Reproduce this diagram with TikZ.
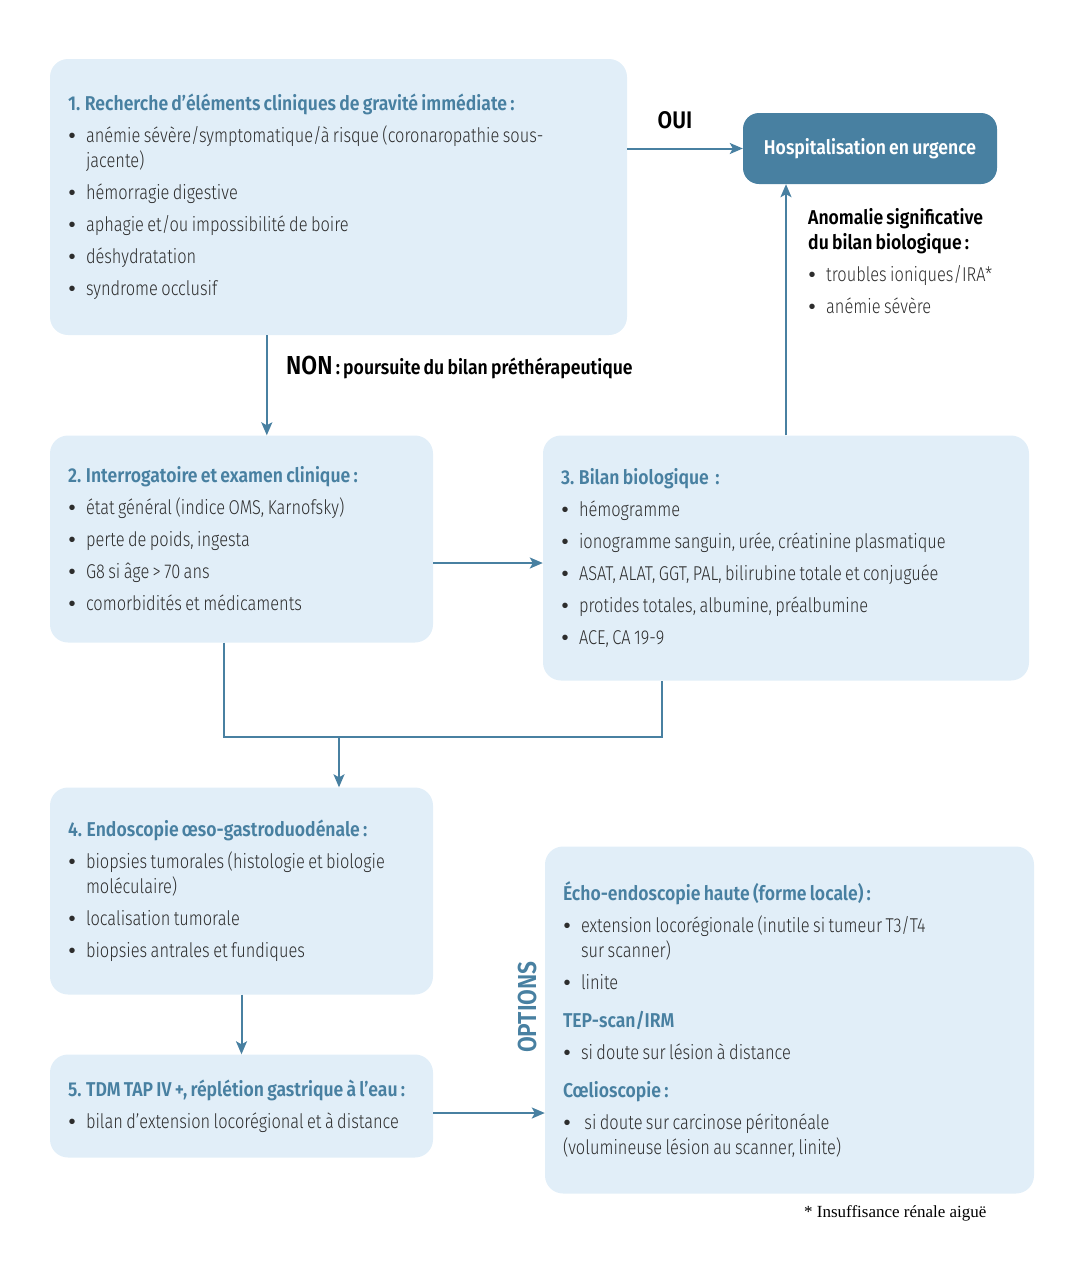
\documentclass[tikz,border=0pt]{standalone}
\usepackage{fontspec}
\setmainfont{Fira Sans Light}[BoldFont={Fira Sans SemiBold}, UprightFeatures={FakeStretch=0.82}, BoldFeatures={FakeStretch=0.88}, WordSpace=0.75]
\newfontfamily\notefont{Liberation Serif}
\newfontfamily\dotfont{Liberation Sans}
\usetikzlibrary{arrows.meta}

\definecolor{boxfill}{RGB}{225,238,248}
\definecolor{steel}{RGB}{72,128,161}
\definecolor{bodytext}{RGB}{45,45,45}

\newcommand{\ttl}[1]{{\bfseries\color{steel}#1}}
\newcommand{\bul}{\par\vskip7pt\hangindent=18pt\hangafter=1\noindent\makebox[18pt][l]{\hspace{0.5pt}{\dotfont\textbullet}}}
\newcommand{\subttl}[1]{\par\vskip13pt\noindent\ttl{#1}}

\begin{document}
\begin{tikzpicture}[x=1pt, y=-1pt,
  box/.style={fill=boxfill, rounded corners=18pt, inner xsep=18pt, inner ysep=0pt, align=flush left, font=\fontsize{20}{25}\selectfont, text=bodytext},
  hosp/.style={fill=steel, rounded corners=16pt, text=white, font=\fontsize{20}{24}\selectfont\bfseries, minimum width=254pt, minimum height=71pt},
  link/.style={draw=steel, line width=2pt, -{Stealth[length=13pt,width=11pt,inset=3pt]}},
  wire/.style={draw=steel, line width=2pt}]
\useasboundingbox (0,0) rectangle (1091,1280);

\node[box, text width=541pt, minimum height=276pt] (box1) at (338.5,197) {\ttl{1. Recherche d’éléments cliniques de gravité immédiate~:}
\bul anémie sévère/symptomatique/à risque (coronaropathie sous-\newline jacente)
\bul hémorragie digestive
\bul aphagie et/ou impossibilité de boire
\bul déshydratation
\bul syndrome occlusif};
\node[hosp] (hosp) at (870,148.5) {Hospitalisation en urgence};

\node[box, text width=347pt, minimum height=207pt] (box2) at (241.5,539) {\ttl{2. Interrogatoire et examen clinique~:}
\bul état général (indice OMS, Karnofsky)
\bul perte de poids, ingesta
\bul G8 si âge > 70 ans
\bul comorbidités et médicaments};
\node[box, text width=450pt, minimum height=245pt] (box3) at (786,558) {\ttl{3. Bilan biologique~~:}
\bul hémogramme
\bul ionogramme sanguin, urée, créatinine plasmatique
\bul ASAT, ALAT, GGT, PAL, bilirubine totale et conjuguée
\bul protides totales, albumine, préalbumine
\bul ACE, CA 19-9};

\node[box, text width=347pt, minimum height=207pt] (box4) at (241.5,891) {\ttl{4. Endoscopie œso-gastroduodénale~:}
\bul biopsies tumorales (histologie et biologie\newline moléculaire)
\bul localisation tumorale
\bul biopsies antrales et fundiques};
\node[box, text width=347pt, minimum height=103pt] (box5) at (241.5,1106) {\ttl{5. TDM TAP IV +, réplétion gastrique à l’eau~:}
\bul bilan d’extension locorégional et à distance};
\node[box, text width=453pt, minimum height=347pt] (options) at (789.5,1020) {\ttl{Écho-endoscopie haute (forme locale)~:}
\bul extension locorégionale (inutile si tumeur T3/T4\newline sur scanner)
\bul linite
\subttl{TEP-scan/IRM}
\bul si doute sur lésion à distance
\subttl{Cœlioscopie~:}
\bul ~si doute sur carcinose péritonéale\par\noindent(volumineuse lésion au scanner, linite)};

% labels
\node[font=\fontsize{24}{28}\selectfont\bfseries] (oui) at (675,120) {OUI};
\node[anchor=west, inner sep=0pt, font=\fontsize{20}{24}\selectfont\bfseries] (non) at (286,367) {{\fontsize{26}{28}\selectfont NON} : poursuite du bilan préthérapeutique};
\node[anchor=north west, inner sep=0pt, text width=220pt, align=flush left, font=\fontsize{20}{25}\selectfont, text=bodytext] (anomalie) at (808,208) {{\bfseries\color{black}Anomalie significative\newline du bilan biologique~:}
\bul troubles ioniques/IRA*
\bul anémie sévère};
\node[rotate=90, text=steel, font=\fontsize{26}{28}\selectfont\bfseries] (opt) at (527,1007) {OPTIONS};
\node[anchor=east, font=\notefont\fontsize{17}{18}\selectfont] (note) at (990,1213) {* Insuffisance rénale aiguë};

% connectors
\coordinate (merge) at (339,737);
\draw[link] (box1.east |- hosp.west) -- (hosp.west);
\draw[link] ([xshift=217pt]box1.south west) -- ([xshift=217pt]box2.north west);
\draw[link] (box3.north) -- (box3.north |- hosp.south);
\draw[link] ([yshift=-24pt]box2.east) -- ([yshift=-24pt]box2.east -| box3.west);
\draw[wire] ([xshift=174pt]box2.south west) |- (merge) -| ([xshift=119pt]box3.south west);
\draw[link] (merge) -- (merge |- box4.north);
\draw[link] (box4.south) -- (box5.north);
\draw[link] ([yshift=-7pt]box5.east) -- ([yshift=-7pt]box5.east -| options.west);
\end{tikzpicture}
\end{document}
